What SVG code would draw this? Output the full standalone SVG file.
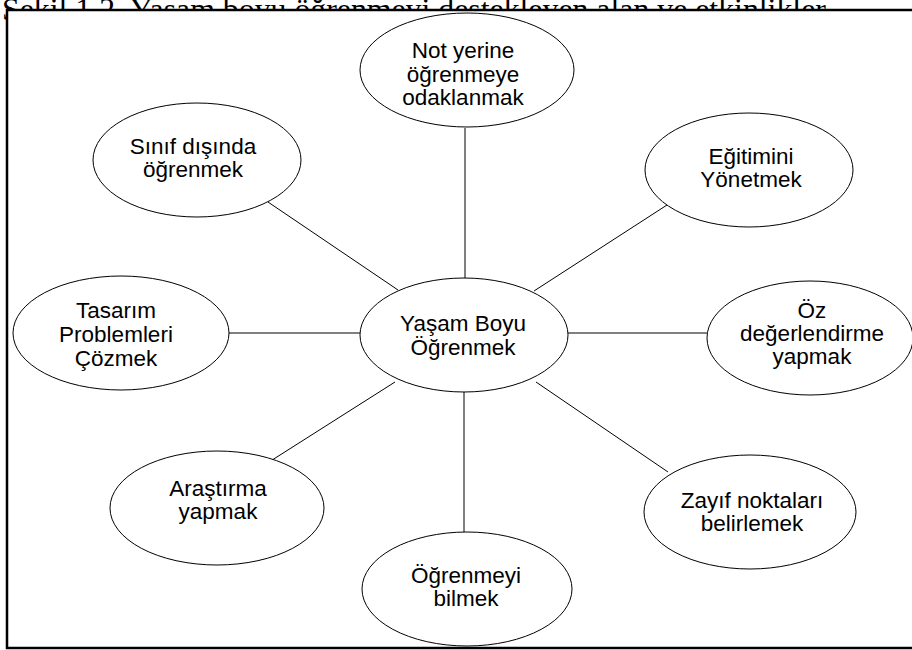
<svg xmlns="http://www.w3.org/2000/svg" width="912" height="650" viewBox="0 0 912 650">
  <style>
    .title { font-family: "Liberation Serif", "Times New Roman", serif; font-size: 31.8px; fill: #000; }
    .frame { fill: #fff; stroke: #000; stroke-width: 2.5; }
    .node ellipse { fill: #fff; stroke: #000; stroke-width: 1; }
    .node text { font-family: "Liberation Sans", Arial, sans-serif; font-size: 22.5px; fill: #000; text-anchor: middle; }
    #connectors line { stroke: #000; stroke-width: 1; }
  </style>

  <!-- caption, partly hidden behind the frame -->
  <text class="title" x="2" y="20">Şekil 1.2. Yaşam boyu öğrenmeyi destekleyen alan ve etkinlikler</text>

  <!-- frame -->
  <rect class="frame" x="7" y="10" width="920" height="638"/>

  <!-- connectors from the central node -->
  <g id="connectors">
    <line x1="465" y1="128" x2="465" y2="278"/>
    <line x1="268" y1="202" x2="398" y2="290"/>
    <line x1="667" y1="205" x2="534" y2="291"/>
    <line x1="229" y1="333" x2="360" y2="333"/>
    <line x1="568" y1="333" x2="707" y2="333"/>
    <line x1="258" y1="469" x2="395" y2="382"/>
    <line x1="668" y1="472" x2="536" y2="382"/>
    <line x1="464" y1="392" x2="464" y2="532"/>
  </g>

  <g id="node-center" class="node">
    <ellipse cx="464" cy="335" rx="104" ry="57"/>
    <text x="463" y="331">Yaşam Boyu</text>
    <text x="463" y="355">Öğrenmek</text>
  </g>

  <g id="node-not-yerine" class="node">
    <ellipse cx="467" cy="70" rx="107" ry="57"/>
    <text x="463" y="58">Not yerine</text>
    <text x="463" y="82">öğrenmeye</text>
    <text x="463" y="105">odaklanmak</text>
  </g>

  <g id="node-sinif-disinda" class="node">
    <ellipse cx="197" cy="160" rx="104" ry="57"/>
    <text x="193" y="154">Sınıf dışında</text>
    <text x="193" y="177">öğrenmek</text>
  </g>

  <g id="node-egitimini" class="node">
    <ellipse cx="749" cy="170" rx="104" ry="57"/>
    <text x="751" y="164">Eğitimini</text>
    <text x="751" y="187">Yönetmek</text>
  </g>

  <g id="node-tasarim" class="node">
    <ellipse cx="121" cy="333" rx="108" ry="57"/>
    <text x="116" y="318">Tasarım</text>
    <text x="116" y="342">Problemleri</text>
    <text x="116" y="366">Çözmek</text>
  </g>

  <g id="node-oz" class="node">
    <ellipse cx="810" cy="338" rx="103" ry="57"/>
    <text x="812" y="318">Öz</text>
    <text x="812" y="341">değerlendirme</text>
    <text x="812" y="364">yapmak</text>
  </g>

  <g id="node-arastirma" class="node">
    <ellipse cx="217" cy="508" rx="107" ry="57"/>
    <text x="218" y="496">Araştırma</text>
    <text x="218" y="519">yapmak</text>
  </g>

  <g id="node-ogrenmeyi" class="node">
    <ellipse cx="467" cy="589" rx="105" ry="57"/>
    <text x="466" y="583">Öğrenmeyi</text>
    <text x="466" y="606">bilmek</text>
  </g>

  <g id="node-zayif" class="node">
    <ellipse cx="750" cy="512" rx="106" ry="57"/>
    <text x="752" y="508">Zayıf noktaları</text>
    <text x="752" y="531">belirlemek</text>
  </g>
</svg>
